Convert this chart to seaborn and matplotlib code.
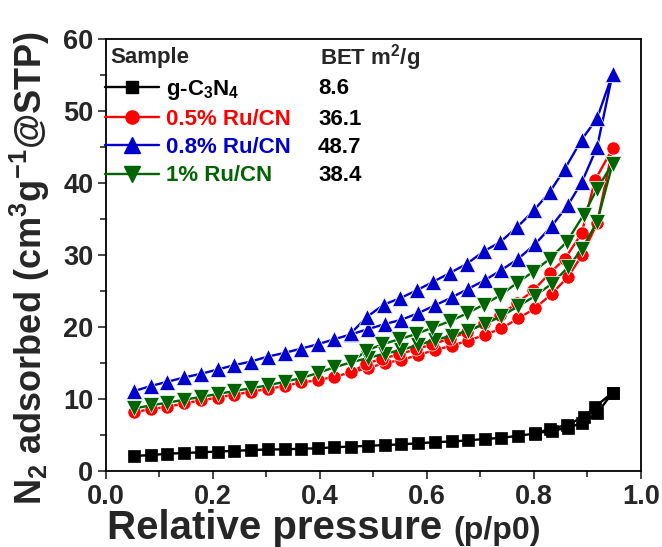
import matplotlib
matplotlib.use("Agg")
import matplotlib.pyplot as plt
import seaborn as sns
import pandas as pd
from matplotlib.lines import Line2D
from matplotlib.ticker import MultipleLocator, FormatStrFormatter

# ---------------- data ----------------
SAMPLES = ["g-C$_3$N$_4$", "0.5% Ru/CN", "0.8% Ru/CN", "1% Ru/CN"]
BET = ["8.6", "36.1", "48.7", "38.4"]

P_ADS = [0.053, 0.084, 0.115, 0.147, 0.178, 0.209, 0.240, 0.271, 0.303, 0.334,
         0.365, 0.396, 0.427, 0.459, 0.490, 0.521, 0.552, 0.583, 0.615, 0.646,
         0.677, 0.708, 0.739, 0.771, 0.802, 0.833, 0.864, 0.890, 0.918, 0.947]

GCN_ADS = [2.1, 2.2, 2.4, 2.5, 2.6, 2.7, 2.8, 2.9, 3.0, 3.0,
           3.1, 3.15, 3.3, 3.4, 3.5, 3.6, 3.7, 3.85, 4.0, 4.1,
           4.25, 4.45, 4.6, 4.9, 5.2, 5.6, 6.0, 6.7, 8.0, 10.9]
GCN_DES_P = [0.947, 0.914, 0.893, 0.861, 0.830, 0.802]
GCN_DES = [10.9, 8.9, 7.5, 6.4, 5.8, 5.3]

RU05_ADS = [8.15, 8.6, 8.9, 9.4, 9.8, 10.2, 10.6, 11.0, 11.4, 11.8,
            12.3, 12.6, 13.1, 13.7, 14.3, 15.0, 15.4, 16.1, 16.8, 17.4,
            18.1, 18.9, 19.8, 21.2, 22.6, 24.6, 27.0, 30.0, 34.4, 44.8]
RU05_DES_P = [0.947, 0.914, 0.889, 0.858, 0.830, 0.799, 0.768, 0.737, 0.706,
              0.675, 0.643, 0.610, 0.579, 0.548, 0.517, 0.486, 0.459]
RU05_DES = [44.8, 40.4, 33.0, 29.5, 27.5, 25.1, 23.3, 21.7, 20.5,
            19.3, 18.4, 17.6, 16.9, 16.2, 15.6, 14.9, 13.7]

RU08_ADS = [11.1, 11.8, 12.4, 13.0, 13.5, 14.1, 14.7, 15.2, 15.9, 16.4,
            17.0, 17.6, 18.3, 19.0, 19.7, 20.4, 21.0, 21.9, 23.0, 24.1,
            25.3, 26.5, 27.9, 29.5, 31.5, 34.0, 37.0, 40.2, 45.0, 55.2]
RU08_DES_P = [0.947, 0.918, 0.889, 0.858, 0.830, 0.800, 0.769, 0.737, 0.706,
              0.675, 0.643, 0.612, 0.581, 0.550, 0.519, 0.488, 0.459]
RU08_DES = [55.2, 49.0, 46.0, 42.0, 38.8, 36.2, 33.9, 31.8, 30.5,
            28.8, 27.5, 26.3, 25.1, 24.0, 23.1, 21.4, 19.2]

RU1_ADS = [8.7, 9.1, 9.5, 9.9, 10.3, 10.7, 11.1, 11.5, 11.9, 12.4,
           12.9, 13.6, 14.4, 15.1, 15.7, 16.3, 16.8, 17.5, 18.2, 18.8,
           19.5, 20.4, 21.5, 22.9, 24.3, 26.0, 28.3, 30.9, 34.6, 42.7]
RU1_DES_P = [0.947, 0.918, 0.893, 0.861, 0.830, 0.799, 0.768, 0.737, 0.706,
             0.675, 0.643, 0.610, 0.579, 0.548, 0.517, 0.486, 0.459]
RU1_DES = [42.7, 39.2, 35.6, 31.8, 29.5, 27.7, 26.1, 24.4, 23.1,
           21.9, 20.8, 19.9, 19.0, 18.3, 17.6, 16.7, 15.1]

X_TICKS = [0.0, 0.2, 0.4, 0.6, 0.8, 1.0]
Y_TICKS = [0, 10, 20, 30, 40, 50, 60]

# ---------------- style ----------------
COLORS = ["#000000", "#FF0000", "#0000CC", "#006400"]
EDGES = ["#000000", "white", "white", "white"]
MARKERS = ["s", "o", "^", "v"]
MSIZES = [9, 9.5, 11, 11]

sns.set_style("ticks")
plt.rcParams["font.family"] = ["Liberation Sans", "DejaVu Sans"]
plt.rcParams["font.weight"] = "bold"
plt.rcParams["mathtext.fontset"] = "custom"
plt.rcParams["mathtext.rm"] = "Liberation Sans:bold"
plt.rcParams["mathtext.it"] = "Liberation Sans:bold"
plt.rcParams["mathtext.bf"] = "Liberation Sans:bold"

# ---------------- tidy table ----------------
series = [
    (SAMPLES[0], GCN_ADS, GCN_DES_P, GCN_DES),
    (SAMPLES[1], RU05_ADS, RU05_DES_P, RU05_DES),
    (SAMPLES[2], RU08_ADS, RU08_DES_P, RU08_DES),
    (SAMPLES[3], RU1_ADS, RU1_DES_P, RU1_DES),
]
rows = []
for name, ads, dp, dv in series:
    k = 0
    for p, v in zip(P_ADS, ads):
        rows.append((name, p, v, k)); k += 1
    for p, v in zip(dp, dv):
        rows.append((name, p, v, k)); k += 1
df = pd.DataFrame(rows, columns=["sample", "p", "v", "order"])

W, H = 662, 547
fig = plt.figure(figsize=(W / 100, H / 100), dpi=100)
x0, x1, y0, y1 = 105.8, 641.0, 39.0, 471.0
ax = fig.add_axes([x0 / W, 1 - y1 / H, (x1 - x0) / W, (y1 - y0) / H])

for name, c, e, m, ms in zip(SAMPLES, COLORS, EDGES, MARKERS, MSIZES):
    sub = df[df["sample"] == name].sort_values("order")
    sns.lineplot(data=sub, x="p", y="v", sort=False, estimator=None, ax=ax,
                 color=c, marker=m, markersize=ms, markeredgecolor=e,
                 markeredgewidth=0.5, linewidth=1.7, legend=False)

ax.set_xlim(0, 1.0)
ax.set_ylim(0, 60)
ax.set_xticks(X_TICKS)
ax.set_yticks(Y_TICKS)
ax.xaxis.set_major_formatter(FormatStrFormatter("%.1f"))
ax.xaxis.set_minor_locator(MultipleLocator(0.1))
ax.yaxis.set_minor_locator(MultipleLocator(5))
ax.tick_params(which="both", direction="out", width=1.2, top=False, right=False)
ax.tick_params(which="major", length=6, labelsize=19.5, pad=3)
ax.tick_params(which="minor", length=4)
for lab in ax.get_xticklabels() + ax.get_yticklabels():
    lab.set_fontweight("bold")
for s in ax.spines.values():
    s.set_linewidth(1.3)
    s.set_color("black")
ax.set_xlabel("")
ax.set_ylabel("")

# axis titles
fig.text(30 / W, 1 - 268 / H, "N$_2$ adsorbed (cm$^3$g$^{-1}$@STP)", rotation=90,
         ha="center", va="center", fontsize=26, fontweight="bold")
t1 = fig.text(107 / W, 1 - 539 / H, "Relative pressure ", ha="left", va="baseline",
              fontsize=29, fontweight="bold")
fig.canvas.draw()
bb = t1.get_window_extent()
fig.text(bb.x1 / W, 1 - 539 / H, "(p/p0)", ha="left", va="baseline",
         fontsize=23, fontweight="bold")

# legend
handles = [Line2D([], [], color=c, marker=m, markersize=ms, lw=1.7,
                  markeredgecolor=c) for c, m, ms in zip(COLORS, MARKERS, MSIZES)]
leg = ax.legend(handles, SAMPLES, loc="upper left",
                bbox_to_anchor=(105 / W, 1 - 78 / H), bbox_transform=fig.transFigure,
                frameon=False, handlelength=2.45, handletextpad=0.3,
                labelspacing=0.32, borderpad=0, borderaxespad=0,
                labelcolor=COLORS, prop={"weight": "bold", "size": 16})
fig.text(110 / W, 1 - 58 / H, "Sample", ha="left", va="center", fontsize=16,
         fontweight="bold")
fig.text(320 / W, 1 - 58 / H, "BET m$^2$/g", ha="left", va="center", fontsize=16,
         fontweight="bold")
fig.canvas.draw()
for txt, val in zip(leg.get_texts(), BET):
    b = txt.get_window_extent()
    fig.text(318 / W, b.y1 / H, val, ha="left", va="top", fontsize=16,
             fontweight="bold", color="black")

fig.savefig("out.png", dpi=100)
